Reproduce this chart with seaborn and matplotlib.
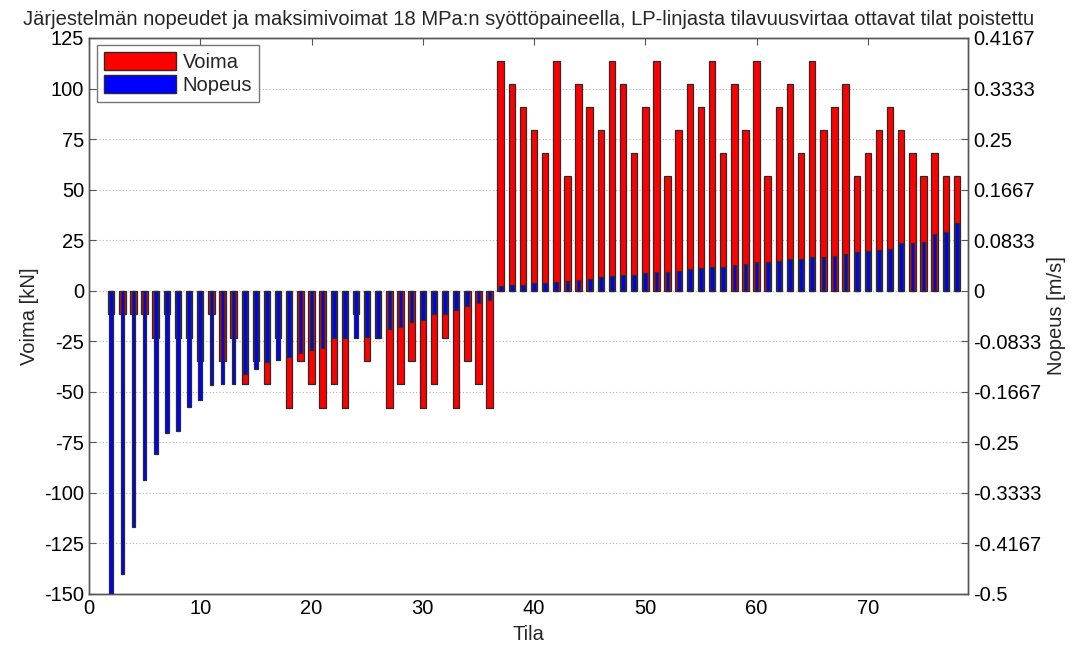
import numpy as np
import pandas as pd
import matplotlib
matplotlib.use("Agg")
import matplotlib.pyplot as plt
from matplotlib.patches import Patch
import seaborn as sns

# State numbers (Tila)
states = list(range(2, 79))

# Maximum force per state [kN]
force_kn = [
    -11.6, -11.6, -11.6, -11.6, -23.5, -11.6, -23.5, -23.5, -34.7, -11.6,
    -34.7, -23.5, -45.9, -34.7, -45.9, -23.5, -57.8, -34.7, -45.9, -57.8,
    -45.9, -57.8, -11.6, -34.7, -23.5, -57.8, -45.9, -34.7, -57.8, -45.9,
    -23.5, -57.8, -34.7, -45.9, -57.8,
    113.6, 102.2, 90.9, 79.5, 68.2, 113.6, 56.8, 102.2, 90.9, 79.5,
    113.6, 102.2, 68.2, 90.9, 113.6, 56.8, 79.5, 102.2, 90.9, 113.6,
    68.2, 102.2, 79.5, 113.6, 56.8, 90.9, 102.2, 68.2, 113.6, 79.5,
    90.9, 102.2, 56.8, 68.2, 79.5, 90.9, 79.5, 68.2, 56.8, 68.2,
    56.8, 56.8,
]

# Velocity per state [m/s]
speed_ms = [
    -0.500, -0.467, -0.390, -0.312, -0.269, -0.234, -0.231, -0.192, -0.180, -0.156,
    -0.154, -0.153, -0.137, -0.129, -0.117, -0.115, -0.110, -0.103, -0.098, -0.095,
    -0.078, -0.078, -0.078, -0.077, -0.078, -0.063, -0.059, -0.052, -0.048, -0.039,
    -0.039, -0.032, -0.026, -0.020, -0.016,
    0.008, 0.009, 0.010, 0.012, 0.013, 0.015, 0.016, 0.017, 0.019, 0.022,
    0.024, 0.026, 0.026, 0.029, 0.031, 0.031, 0.033, 0.035, 0.038, 0.039,
    0.039, 0.043, 0.044, 0.047, 0.047, 0.049, 0.052, 0.053, 0.055, 0.056,
    0.058, 0.060, 0.064, 0.066, 0.067, 0.069, 0.079, 0.079, 0.080, 0.093,
    0.096, 0.112,
]

force_ticks = list(range(-150, 126, 25))
speed_tick_labels = ["-0.5", "-0.4167", "-0.3333", "-0.25", "-0.1667", "-0.0833",
                     "0", "0.0833", "0.1667", "0.25", "0.3333", "0.4167"]

df = pd.DataFrame({"Tila": states, "Voima": force_kn, "Nopeus": speed_ms})

sns.set_style("white")
plt.rcParams["font.family"] = ["Liberation Sans", "DejaVu Sans"]
plt.rcParams["font.size"] = 14
plt.rcParams["axes.unicode_minus"] = False

FS = 14.5

fig = plt.figure(figsize=(10.77, 6.46), dpi=100)
ax = fig.add_axes([0.0826, 0.0805, 0.8162, 0.8607])
ax2 = ax.twinx()

edge = "#2b2b2b"
sns.barplot(data=df, x="Tila", y="Voima", native_scale=True, ax=ax,
            color="#ff0000", saturation=1, width=0.58, errorbar=None,
            edgecolor=edge, linewidth=0.9)
sns.barplot(data=df, x="Tila", y="Nopeus", native_scale=True, ax=ax2,
            color="#0000ff", saturation=1, width=0.33, errorbar=None,
            edgecolor=edge, linewidth=0.9)

ax.set_xlim(0, 79)
ax.set_ylim(-150, 125)
ax2.set_ylim(-0.5, 125 / 300)
ax.set_xticks(range(0, 80, 10))
ax.set_yticks(force_ticks)
ax2.set_yticks(np.array(force_ticks[:len(speed_tick_labels)]) / 300)
ax2.set_yticklabels(speed_tick_labels)

ax.yaxis.grid(True, linestyle=(0, (1, 2)), color="#b5b5b5", linewidth=0.8)
ax.set_axisbelow(True)

ax.set_xlabel("Tila", fontsize=FS, labelpad=5)
ax.set_ylabel("Voima [kN]", fontsize=FS, labelpad=4)
ax2.set_ylabel("Nopeus [m/s]", fontsize=FS, labelpad=4)
ax.set_title("Järjestelmän nopeudet ja maksimivoimat 18 MPa:n syöttöpaineella, "
             "LP-linjasta tilavuusvirtaa ottavat tilat poistettu",
             fontsize=FS, pad=9)

for a in (ax, ax2):
    for s in a.spines.values():
        s.set_color("#555555")
        s.set_linewidth(1.0)
ax.tick_params(axis="both", direction="in", length=5, color="#555555",
               labelsize=FS, labelcolor="black", top=True, right=False)
ax2.tick_params(axis="y", direction="in", length=5, color="#555555",
                labelsize=FS, labelcolor="black")

handles = [Patch(facecolor="#ff0000", edgecolor=edge, label="Voima"),
           Patch(facecolor="#0000ff", edgecolor=edge, label="Nopeus")]
leg = ax2.legend(handles=handles, loc="upper left", bbox_to_anchor=(0.009, 0.988),
                 fontsize=FS, frameon=True, fancybox=False, handlelength=3.6,
                 handleheight=1.0, handletextpad=0.3, borderpad=0.35,
                 labelspacing=0.15, borderaxespad=0)
leg.get_frame().set_edgecolor("#555555")
leg.get_frame().set_linewidth(1.0)

fig.savefig("out.png", dpi=100)
